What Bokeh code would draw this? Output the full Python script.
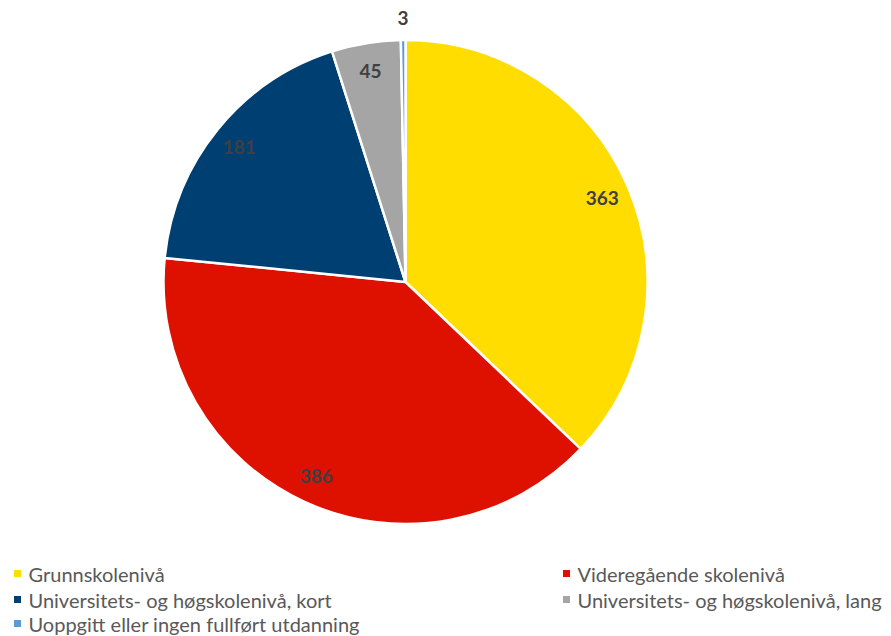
import math
from bokeh.plotting import figure
from bokeh.models import ColumnDataSource, Range1d
from bokeh.core.properties import value
from bokeh.embed import file_html
from bokeh.resources import INLINE

categories = ["Grunnskolenivå", "Videregående skolenivå",
              "Universitets- og høgskolenivå, kort",
              "Universitets- og høgskolenivå, lang",
              "Uoppgitt eller ingen fullført utdanning"]
values = [363, 386, 181, 45, 3]
colors = ["#FFDD00", "#DE1000", "#003F72", "#A5A5A5", "#5B9BD5"]

W, H = 891, 636
def X(sx): return sx
def Y(sy): return H - sy

cx, cy, R = X(405), Y(281.5), 242

total = sum(values)
starts, ends, lx, ly = [], [], [], []
cum = 0
for i, v in enumerate(values):
    a0 = math.pi / 2 - 2 * math.pi * cum / total
    a1 = math.pi / 2 - 2 * math.pi * (cum + v) / total
    starts.append(a1)
    ends.append(a0)
    mid = math.pi / 2 - 2 * math.pi * (cum + v / 2) / total
    rr = 214 if v / total > 0.02 else 264
    lx.append(cx + rr * math.cos(mid))
    ly.append(cy + rr * math.sin(mid))
    cum += v

p = figure(width=W, height=H, output_backend="svg", toolbar_location=None,
           x_range=Range1d(0, W), y_range=Range1d(0, H),
           min_border=0, min_border_left=0, min_border_right=0,
           min_border_top=0, min_border_bottom=0)
p.axis.visible = False
p.grid.visible = False
p.outline_line_color = None
p.background_fill_color = "white"

src = ColumnDataSource(dict(start=starts, end=ends, color=colors))
p.wedge(x=cx, y=cy, radius=R, start_angle="start", end_angle="end",
        fill_color="color", line_color="white", line_width=2.5, source=src)

lsrc = ColumnDataSource(dict(x=lx, y=ly, t=[str(v) for v in values]))
p.text(x="x", y="y", text="t", source=lsrc, text_align="center",
       text_baseline="middle", text_font=value("Lato"), text_font_size="19px",
       text_font_style="bold", text_color="#404040")

# legend
leg_x = [X(17), X(566), X(17), X(566), X(17)]
leg_y = [Y(573), Y(573), Y(599), Y(599), Y(623)]
legsrc = ColumnDataSource(dict(x=leg_x, y=leg_y, tx=[x + 11 for x in leg_x],
                               t=categories, color=colors))
p.scatter(x="x", y="y", marker="square", size=7, fill_color="color",
          line_color=None, source=legsrc)
p.text(x="tx", y="y", text="t", source=legsrc, text_align="left",
       text_baseline="middle", text_font=value("Lato"), text_font_size="20px",
       text_color="#595959")

html = file_html(p, INLINE)
html = html.replace("<body>", '<body style="margin:0">', 1)
open("out.html", "w").write(html)
